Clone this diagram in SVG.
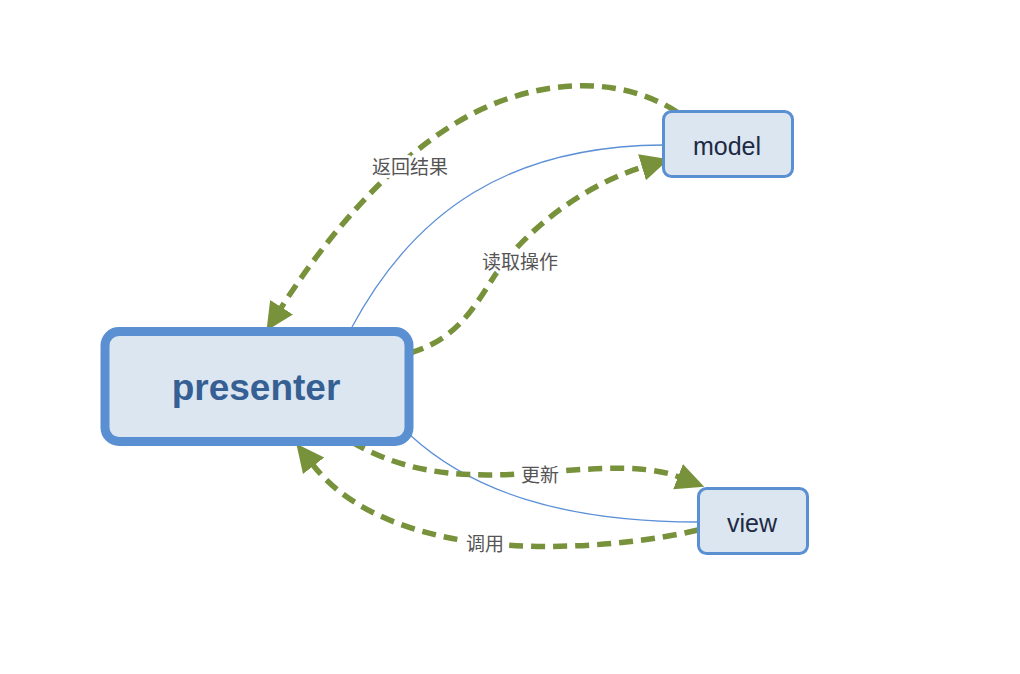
<svg xmlns="http://www.w3.org/2000/svg" width="1020" height="674" viewBox="0 0 1020 674">
<style>
.box{fill:#dce6f1;stroke:#5a8fd2}
.lbl{font-family:"Noto Sans CJK SC","Noto Sans",sans-serif;font-size:19px;fill:#555;text-anchor:middle;dominant-baseline:central;paint-order:stroke;stroke:#fff;stroke-width:6px;stroke-linejoin:round}
.ntxt{font-family:"Liberation Sans",Arial,sans-serif;text-anchor:middle;dominant-baseline:central}
.thin{fill:none;stroke:#5b8fd6;stroke-width:1.3}
.dash{fill:none;stroke:#77923b;stroke-width:5.5;stroke-dasharray:14 8;marker-end:url(#ah)}
</style>
<defs>
<marker id="ah" markerUnits="userSpaceOnUse" markerWidth="30" markerHeight="30" viewBox="0 0 30 30" refX="1" refY="15" orient="auto">
<path d="M0,1.5 L28,15 L0,28.5 z" fill="#77923b"/>
</marker>
</defs>
<rect width="1020" height="674" fill="#fff"/>
<g id="connectors">
<path class="thin" d="M352,327 C415,210 510,146 663,145"/>
<path class="thin" d="M410,435 C470,490 560,522 698,522"/>
<path class="dash" d="M677,112 C620,75 540,78 470,115 C400,152 332,228 281,308"/>
<path class="dash" d="M410,353 C470,335 480,290 510,255 C550,210 600,180 643,167"/>
<path class="dash" d="M352,442 C400,470 450,478 520,474 C580,470 640,462 679,477"/>
<path class="dash" d="M698,530 C620,548 520,552 450,538 C390,526 342,502 313,465"/>
<text class="lbl" x="410" y="165">返回结果</text>
<text class="lbl" x="520" y="260">读取操作</text>
<text class="lbl" x="540" y="473">更新</text>
<text class="lbl" x="485" y="542">调用</text>
</g>
<g id="presenter">
<rect class="box" x="105" y="331.5" width="304" height="110" rx="14" stroke-width="9"/>
<text class="ntxt" x="256" y="387" font-size="37" font-weight="bold" fill="#365f94">presenter</text>
</g>
<g id="model">
<rect class="box" x="663.5" y="111.5" width="129" height="65" rx="8" stroke-width="3"/>
<text class="ntxt" x="727" y="146" font-size="25" fill="#1c2a44">model</text>
</g>
<g id="view">
<rect class="box" x="698.5" y="488.5" width="109" height="65" rx="8" stroke-width="3"/>
<text class="ntxt" x="752" y="523" font-size="25" fill="#1c2a44">view</text>
</g>
</svg>
